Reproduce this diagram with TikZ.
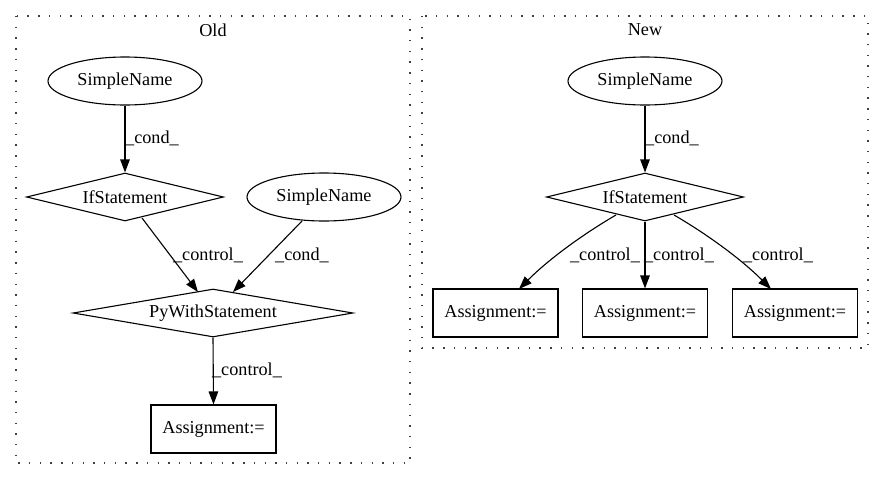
\documentclass[tikz,border=0pt]{standalone}
\usepackage{fontspec}
\setmainfont{Liberation Serif}
\usetikzlibrary{shapes.geometric,arrows.meta}
\begin{document}
\begin{tikzpicture}[x=1pt,y=-1pt,
  font=\fontsize{18.2pt}{20pt}\selectfont,
  every node/.style={inner sep=0pt},
  cluster/.style={draw=black!75,line width=1.4pt,dash pattern=on 1.4pt off 9.3pt},
  namenode/.style={draw,ellipse,line width=1.1pt,minimum width=154pt,minimum height=48pt},
  ifnode/.style={draw,diamond,line width=1.1pt,aspect=4.1,minimum width=197pt,minimum height=48pt},
  withnode/.style={draw,diamond,line width=1.1pt,aspect=5.8,minimum width=280pt,minimum height=48pt},
  assignnode/.style={draw,rectangle,line width=1.1pt,minimum width=125pt,minimum height=48pt},
  edge/.style={line width=1.1pt,-{Triangle[length=13pt,width=9.5pt]}},
  elabel/.style={anchor=center}]
\useasboundingbox (0,0) rectangle (884,480);

% clusters
\draw[cluster] (16,16) rectangle (410,463);
\draw[cluster] (422,16) rectangle (868,348);
\node (oldtitle) at (213,30) {Old};
\node (newtitle) at (645,30) {New};

% left graph
\node[namenode] (sn1) at (125,81) {SimpleName};
\node[ifnode] (if1) at (125,197) {IfStatement};
\node[namenode] (sn2) at (324,197) {SimpleName};
\node[withnode] (with) at (213,313) {PyWithStatement};
\node[assignnode] (as0) at (213.5,429) {Assignment:=};

\draw[edge] (sn1) -- (if1.north);
\node[elabel] (l1) at (152,138) {\_cond\_};
\draw[edge] (142,218) -- (198,292);
\node[elabel] (l2) at (208,255) {\_control\_};
\draw[edge] (302,221) -- (233,292);
\node[elabel] (l3) at (302,255) {\_cond\_};
\draw[edge] (with.south) -- (as0.north);
\node[elabel] (l4) at (247,370) {\_control\_};

% right graph
\node[namenode] (sn3) at (645,81) {SimpleName};
\node[ifnode] (if2) at (645,197) {IfStatement};
\node[assignnode] (as1) at (495.5,313) {Assignment:=};
\node[assignnode] (as2) at (645,313) {Assignment:=};
\node[assignnode] (as3) at (795,313) {Assignment:=};

\draw[edge] (sn3) -- (if2.north);
\node[elabel] (l5) at (672,138) {\_cond\_};
\draw[edge] (616,215) .. controls (585,233) and (550,258) .. (519,289);
\node[elabel] (l6) at (605,255) {\_control\_};
\draw[edge] (if2.south) -- (as2.north);
\node[elabel] (l7) at (679,255) {\_control\_};
\draw[edge] (674,215) .. controls (705,233) and (740,258) .. (771,289);
\node[elabel] (l8) at (778,255) {\_control\_};
\end{tikzpicture}
\end{document}
